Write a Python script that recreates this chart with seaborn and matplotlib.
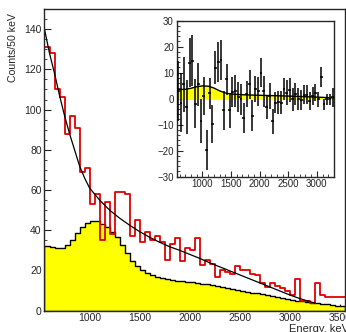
import numpy as np
import pandas as pd
import matplotlib
matplotlib.use("Agg")
import matplotlib.pyplot as plt
from matplotlib.ticker import MultipleLocator
import seaborn as sns

# measured spectrum, 50 keV bins starting at 550 keV
bin_low = 550
bin_width = 50
measured = [131, 128, 110, 106, 88, 97, 91, 69, 71, 53,
            58, 35, 54, 38, 59, 59, 58, 37, 45, 34,
            39, 35, 37, 34, 25, 33, 36, 24.5, 31, 30,
            36, 22.5, 25, 23, 16.5, 20, 19, 18, 22, 20,
            20, 18, 17.5, 14, 12, 14, 12.5, 11.5, 10, 8,
            16, 5, 5, 4, 14, 8, 7, 7, 7, 7]

# simulated contribution (yellow)
simulated = [32.2, 31.5, 31, 31.2, 32.5, 35, 38.5, 41.8, 43.8, 44.8,
             44.6, 43.1, 41.5, 39.3, 36.5, 32.8, 28.6, 24.9, 22.3, 20.3,
             18.6, 17.5, 16.6, 16.1, 15.8, 15.3, 15, 14.8, 14.5, 14.2,
             13.9, 13.5, 13.1, 12.7, 12.3, 11.8, 11.4, 10.9, 10.5, 10,
             9.5, 9, 8.6, 8.1, 7.6, 7.1, 6.7, 6.2, 5.8, 5.4,
             5, 4.6, 4.3, 4, 3.7, 3.4, 3.1, 2.8, 2.5, 2.2]

# fitted background curve
fit_energy = [550, 600, 650, 700, 750, 800, 850, 900, 950, 1000,
              1100, 1200, 1300, 1400, 1500, 1600, 1700, 1800, 1900, 2000,
              2100, 2200, 2300, 2400, 2500, 2600, 2700, 2800, 2900, 3000,
              3100, 3200, 3250]
fit_counts = [140, 128, 118, 107, 97, 88, 80, 72, 66, 61,
              55, 50, 46, 42.5, 39.3, 36.5, 34, 31.8, 30, 28,
              26, 23.8, 21.8, 19.8, 17.8, 15.8, 13.8, 11.8, 9.8, 7.8,
              6, 4.5, 3.8]

# inset: residuals with errors
resid = [2.9, -1.6, 5.5, -3.1, 13.8, 14.5, -1.9, 5.5, -8.7, 1,
         -19.8, 2, -9.6, 11.9, 14.1, 14.7, -4.5, 7.4, -4.5, 2.7,
         2.9, 0.6, -0.3, -7.4, 1.9, 5.5, -6.5, 3.8, 2.9, 10,
         2.9, -3.1, 1, -8.7, -1.6, -1.4, -1.6, 3.6, 2.3, 3.3,
         -0.3, 1.9, 0, -0.6, 1.6, 1.6, -0.8, 1, 2.3, -0.3,
         8.3, -2.2, -0.3, -0.3, 0.5]
resid_err = [11.4, 11.3, 10.5, 10.3, 9.4, 9.8, 9.5, 8.3, 8.4, 7.3,
             7.6, 5.9, 7.3, 6.3, 7.7, 7.7, 7.6, 6.1, 6.7, 5.8,
             6.2, 5.9, 6.1, 5.8, 5, 5.7, 6, 4.9, 5.6, 5.5,
             6, 4.7, 5, 4.8, 4.1, 4.5, 4.4, 4.2, 4.7, 4.5,
             4.5, 4.2, 4.2, 3.9, 3.5, 3.7, 3.5, 3.4, 3.2, 2.8,
             4, 2.2, 2.2, 2, 3.7]
sig_energy = [550, 700, 800, 900, 1000, 1100, 1200, 1300, 1400, 1500,
              1700, 2000, 2500, 3000, 3300]
sig_counts = [3.5, 3.6, 4.0, 4.6, 4.9, 4.8, 4.1, 3.0, 2.2, 1.8,
              1.5, 1.3, 1.0, 0.6, 0.3]

bin_high = bin_low + bin_width * len(measured)
centers = bin_low + bin_width * (np.arange(len(measured)) + 0.5)
spec = pd.DataFrame({"E": centers, "measured": measured, "simulated": simulated})
fit = pd.DataFrame({"E": fit_energy, "counts": fit_counts})

sns.set_style("ticks")
plt.rcParams["font.family"] = ["Liberation Sans", "DejaVu Sans"]
plt.rcParams["axes.linewidth"] = 1.0

fig = plt.figure(figsize=(3.46, 3.32), dpi=100)
ax = fig.add_axes([0.1286, 0.0642, 0.8685, 0.9087])

sns.histplot(data=spec, x="E", weights="simulated", binwidth=bin_width,
             binrange=(bin_low, bin_high), element="step",
             fill=True, color="#ffff00", alpha=1, edgecolor="black", linewidth=1.0, ax=ax)
sns.histplot(data=spec, x="E", weights="measured", binwidth=bin_width,
             binrange=(bin_low, bin_high), element="step",
             fill=False, color="#e00000", linewidth=1.3, ax=ax)
sns.lineplot(data=fit, x="E", y="counts", color="black", linewidth=0.9, ax=ax)

ax.set_xlim(550, 3550)
ax.set_ylim(0, 150)
ax.xaxis.set_major_locator(MultipleLocator(500))
ax.xaxis.set_minor_locator(MultipleLocator(250))
ax.yaxis.set_major_locator(MultipleLocator(20))
ax.yaxis.set_minor_locator(MultipleLocator(5))
ax.tick_params(which="both", direction="in", top=False, right=False, labelsize=7.5, pad=2)
ax.tick_params(which="major", length=5)
ax.tick_params(which="minor", length=2.5)
ax.set_xlabel("")
ax.set_ylabel("")
ax.text(1.012, -0.045, "Energy, keV", transform=ax.transAxes, ha="right", va="top", fontsize=8)
fig.text(13 / 346, 1 - 13 / 332, "Counts/50 keV", rotation=90, ha="center", va="top", fontsize=7.6)

# inset
ax2 = fig.add_axes([0.5107, 0.4678, 0.4546, 0.47])
e_pts = centers[:len(resid)]
sig = pd.DataFrame({"E": sig_energy, "counts": sig_counts})
ax2.fill_between(sig["E"], 0, sig["counts"], color="#ffff00", zorder=1)
sns.lineplot(data=sig, x="E", y="counts", color="black", linewidth=1.0, ax=ax2, zorder=2)
ax2.errorbar(e_pts, resid, yerr=resid_err, xerr=bin_width / 2, fmt="none",
             ecolor="black", elinewidth=1.1, capsize=0, zorder=3)
ax2.set_xlim(550, 3300)
ax2.set_ylim(-30, 30)
ax2.xaxis.set_major_locator(MultipleLocator(500))
ax2.xaxis.set_minor_locator(MultipleLocator(100))
ax2.yaxis.set_major_locator(MultipleLocator(10))
ax2.yaxis.set_minor_locator(MultipleLocator(2))
ax2.tick_params(which="both", direction="in", top=False, right=False, labelsize=7, pad=2)
ax2.tick_params(which="major", length=4)
ax2.tick_params(which="minor", length=2)
ax2.set_xlabel("")
ax2.set_ylabel("")

fig.savefig("out.png", dpi=100)
